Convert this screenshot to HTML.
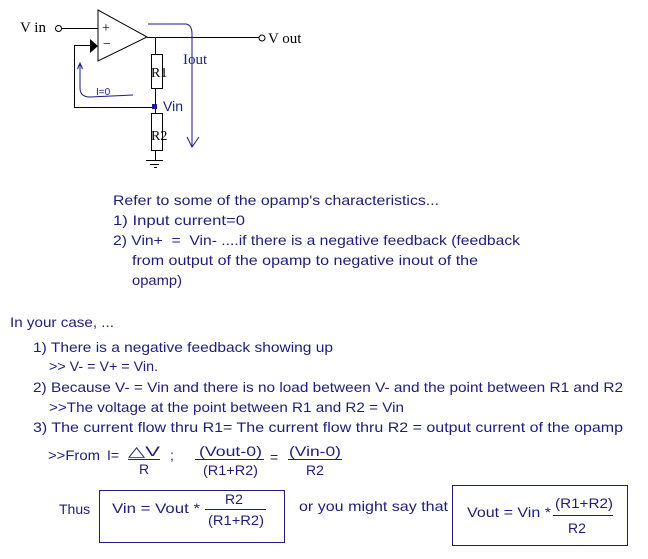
<!DOCTYPE html>
<html><head><meta charset="utf-8"><style>
html,body{margin:0;padding:0;background:#fff;}
svg{display:block;}
.t{font-family:"Liberation Sans",sans-serif;font-size:14px;fill:#1e1e7a;}
.s{font-family:"Liberation Serif",serif;font-size:15px;fill:#000;}
</style></head><body>
<svg width="648" height="559" viewBox="0 0 648 559" xmlns="http://www.w3.org/2000/svg">
<rect width="648" height="559" fill="#fff"/>
<!-- circuit -->
<g stroke="#000" stroke-width="1" fill="none">
<circle cx="58.5" cy="28.5" r="3"/>
<line x1="61" y1="28.5" x2="98" y2="28.5"/>
<polygon points="98,10 98,61 147,37" fill="#fff"/>
<line x1="147" y1="37.5" x2="259" y2="37.5"/>
<circle cx="262" cy="38" r="3"/>
<line x1="155.5" y1="37" x2="155.5" y2="54"/>
<rect x="151.5" y="54.5" width="11" height="34" fill="#fff"/>
<line x1="155.5" y1="88" x2="155.5" y2="113"/>
<rect x="151.5" y="113.5" width="11" height="37" fill="#fff"/>
<line x1="155.5" y1="151" x2="155.5" y2="160"/>
<line x1="146" y1="160.5" x2="163" y2="160.5"/>
<line x1="150" y1="164.5" x2="159" y2="164.5"/>
<line x1="154" y1="167.5" x2="157" y2="167.5"/>
<polyline points="153,107.5 74.5,107.5 74.5,45.5 92,45.5"/>
</g>
<polygon points="90,39 98,46 90,53" fill="#000"/>
<text x="20" y="32" class="s">V in</text>
<text x="102" y="32" class="s" style="font-size:14px">+</text>
<text x="103" y="48" class="s" style="font-size:14px">−</text>
<text x="268" y="43" class="s">V out</text>
<text x="151" y="77" class="s" style="font-size:14px">R1</text>
<text x="151" y="140" class="s" style="font-size:14px">R2</text>
<rect x="152" y="104" width="5" height="5" fill="#1a1aa0"/>
<text x="163" y="111" class="t">Vin</text>
<g stroke="#1a1a90" stroke-width="1" fill="none">
<path d="M80,64 L80,88 Q80,97 90,97 L133,95"/>
<polyline points="77.5,69 80,63 82.5,69"/>
<path d="M148,24 L186,24 Q192,25 192,34 L192,147"/>
<polyline points="187,137 192,147 199,137"/>
</g>
<text x="96" y="95" style="font-family:'Liberation Sans',sans-serif;font-size:10px;fill:#1e1e7a">I=0</text>
<text x="183" y="64" class="s" style="fill:#1e1e7a">Iout</text>
<!-- text block -->
<text x="113" y="205" class="t" textLength="326" lengthAdjust="spacingAndGlyphs">Refer to some of the opamp's characteristics...</text>
<text x="113" y="225" class="t" textLength="132" lengthAdjust="spacingAndGlyphs">1) Input current=0</text>
<text x="113" y="245" class="t" textLength="407" lengthAdjust="spacingAndGlyphs">2) Vin+ &#160;= &#160;Vin- ....if there is a negative feedback (feedback</text>
<text x="132" y="265" class="t" textLength="346" lengthAdjust="spacingAndGlyphs">from output of the opamp to negative inout of the</text>
<text x="132" y="285" class="t" textLength="50" lengthAdjust="spacingAndGlyphs">opamp)</text>
<text x="10" y="327" class="t" textLength="104" lengthAdjust="spacingAndGlyphs">In your case, ...</text>
<text x="33" y="352" class="t" textLength="300" lengthAdjust="spacingAndGlyphs">1) There is a negative feedback showing up</text>
<text x="49" y="371" class="t" textLength="109" lengthAdjust="spacingAndGlyphs">&gt;&gt; V- = V+ = Vin.</text>
<text x="33" y="392" class="t" textLength="590" lengthAdjust="spacingAndGlyphs">2) Because V- = Vin and there is no load between V- and the point between R1 and R2</text>
<text x="49" y="412" class="t" textLength="355" lengthAdjust="spacingAndGlyphs">&gt;&gt;The voltage at the point between R1 and R2 = Vin</text>
<text x="33" y="432" class="t" textLength="590" lengthAdjust="spacingAndGlyphs">3) The current flow thru R1= The current flow thru R2 = output current of the opamp</text>
<!-- formula line -->
<text x="48" y="460" class="t" textLength="52" lengthAdjust="spacingAndGlyphs">&gt;&gt;From</text>
<text x="107" y="460" class="t">I=</text>
<text x="128" y="456" class="t" textLength="32" lengthAdjust="spacingAndGlyphs">△V</text>
<line x1="128" y1="459.5" x2="160" y2="459.5" stroke="#1e1e7a"/>
<text x="139" y="474" class="t">R</text>
<text x="170" y="460" class="t">;</text>
<text x="199" y="456" class="t" textLength="63" lengthAdjust="spacingAndGlyphs">(Vout-0)</text>
<line x1="195" y1="459.5" x2="264" y2="459.5" stroke="#1e1e7a"/>
<text x="203" y="475" class="t" textLength="55" lengthAdjust="spacingAndGlyphs">(R1+R2)</text>
<text x="270" y="462" class="t">=</text>
<text x="289" y="456" class="t" textLength="52" lengthAdjust="spacingAndGlyphs">(Vin-0)</text>
<line x1="288" y1="459.5" x2="342" y2="459.5" stroke="#1e1e7a"/>
<text x="306" y="475" class="t">R2</text>
<!-- boxes -->
<text x="59" y="514" class="t">Thus</text>
<rect x="99.5" y="490.5" width="185" height="52" fill="none" stroke="#1e1e7a"/>
<text x="112" y="513" class="t" textLength="88" lengthAdjust="spacingAndGlyphs">Vin = Vout *</text>
<text x="225" y="504" class="t">R2</text>
<line x1="205" y1="509.5" x2="266" y2="509.5" stroke="#1e1e7a"/>
<text x="208" y="525" class="t" textLength="56" lengthAdjust="spacingAndGlyphs">(R1+R2)</text>
<text x="299" y="511" class="t" textLength="149" lengthAdjust="spacingAndGlyphs">or you might say that</text>
<rect x="452.5" y="485.5" width="175" height="60" fill="none" stroke="#1e1e7a"/>
<text x="467" y="517" class="t" textLength="84" lengthAdjust="spacingAndGlyphs">Vout = Vin *</text>
<text x="555" y="508" class="t" textLength="58" lengthAdjust="spacingAndGlyphs">(R1+R2)</text>
<line x1="553" y1="515.5" x2="613" y2="515.5" stroke="#1e1e7a"/>
<text x="568" y="533" class="t">R2</text>
</svg>
</body></html>
